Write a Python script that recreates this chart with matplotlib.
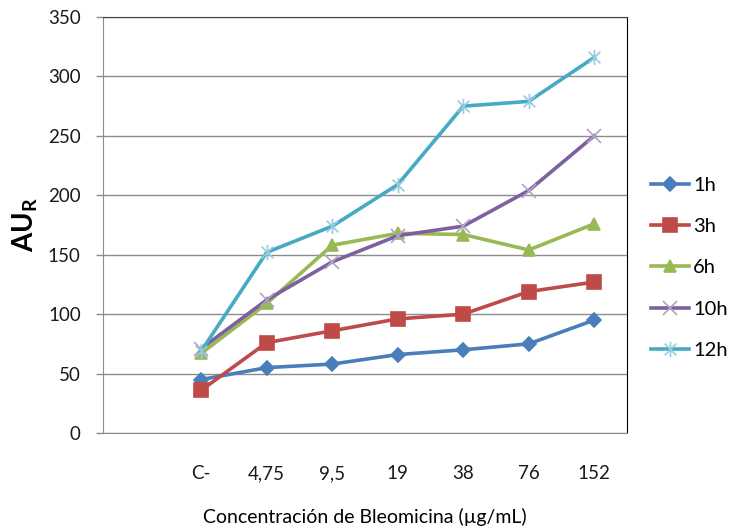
import matplotlib
matplotlib.use("Agg")
import matplotlib.pyplot as plt
from matplotlib.path import Path

plt.rcParams['font.family'] = ['Lato', 'DejaVu Sans']

# categories (first slot left empty as in the original sheet)
categories = ["", "C-", "4,75", "9,5", "19", "38", "76", "152"]
series_names = ["1h", "3h", "6h", "10h", "12h"]
v_1h = [45, 55, 58, 66, 70, 75, 95]
v_3h = [36, 76, 86, 96, 100, 119, 127]
v_6h = [67, 109, 158, 168, 167, 154, 176]
v_10h = [71, 112, 144, 166, 174, 204, 250]
v_12h = [69, 152, 174, 209, 275, 279, 316]
y_ticks = [0, 50, 100, 150, 200, 250, 300, 350]

colors = ["#4A7EBB", "#BE4B48", "#98B954", "#7D60A0", "#46AAC5"]
marker_colors = ["#4A7EBB", "#BE4B48", "#98B954", "#B3A2C7", "#93CDDD"]

# excel style star: x plus vertical bar
star = Path([(-1, -1), (1, 1), (-1, 1), (1, -1), (0, -1.3), (0, 1.3)],
            [Path.MOVETO, Path.LINETO, Path.MOVETO, Path.LINETO, Path.MOVETO, Path.LINETO])
markers = ["D", "s", "^", "x", star]
msizes = [7, 10, 9, 10, 11]

fig = plt.figure(figsize=(7.30, 5.31), dpi=100)
ax = fig.add_axes([103/730, 1-433/531, 524/730, 416/531])

x = list(range(1, len(categories)))
all_vals = [v_1h, v_3h, v_6h, v_10h, v_12h]
for i, vals in enumerate(all_vals):
    ax.plot(x, vals, color=colors[i], lw=2.6, marker=markers[i], ms=msizes[i],
            mfc=marker_colors[i], mec=marker_colors[i], mew=1.2,
            label=series_names[i], zorder=3 + i)

ax.set_xlim(-0.5, len(categories) - 0.5)
ax.set_ylim(0, 350)
ax.set_yticks(y_ticks)
ax.set_xticks(range(len(categories)))
ax.set_xticklabels(categories)
ax.grid(axis='y', color='#8C8C8C', lw=1)
ax.set_axisbelow(True)

for s in ['left', 'bottom']:
    ax.spines[s].set_color('#8C8C8C')
ax.spines['top'].set_color('#404040')
ax.spines['right'].set_color('#000000')
ax.tick_params(axis='x', length=0, pad=23, labelsize=13.5, colors='#1a1a1a')
ax.tick_params(axis='y', length=5, width=1, color='#8C8C8C', pad=11, labelsize=13.5, colors='#1a1a1a')

ax.set_xlabel("Concentración de Bleomicina (µg/mL)", fontsize=14, labelpad=19)
ax.set_ylabel("AU$_\\mathregular{R}$", fontsize=20, fontweight='bold', labelpad=6)

ax.legend(loc='center left', bbox_to_anchor=(1.045, 0.397), frameon=False,
          fontsize=14.5, handlelength=1.9, handletextpad=0.2, labelspacing=1.2,
          borderpad=0, borderaxespad=0)

fig.savefig("out.png", dpi=100)
